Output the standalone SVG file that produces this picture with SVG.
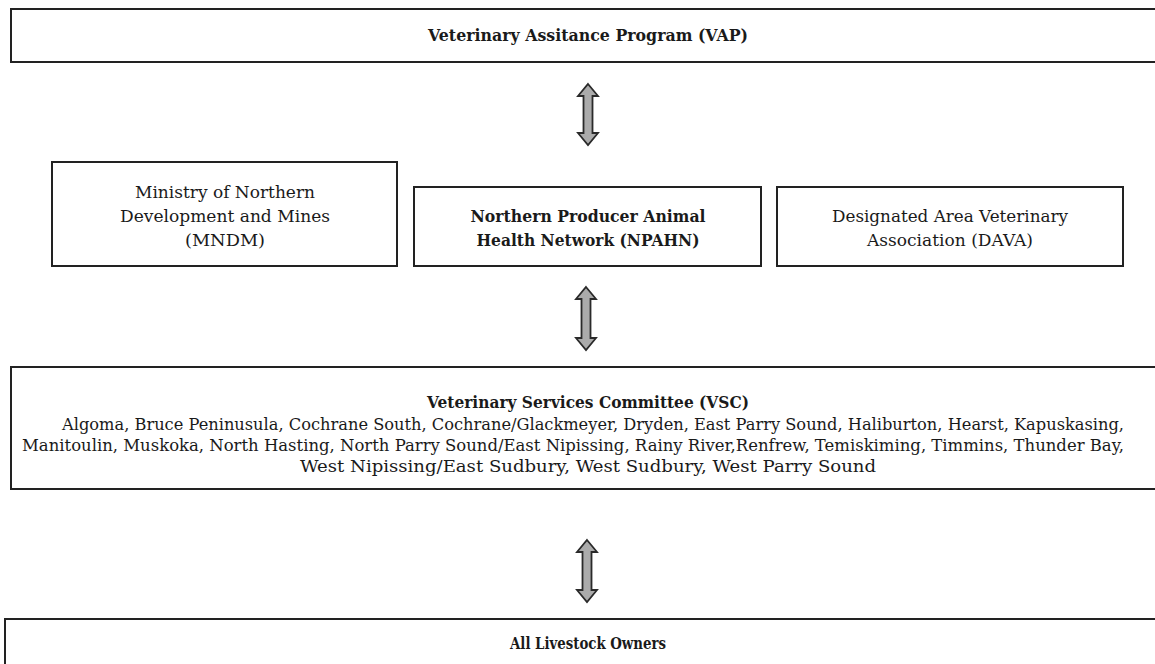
<svg xmlns="http://www.w3.org/2000/svg" width="1155" height="664" viewBox="0 0 1155 664">
<style>
.box{fill:#fff;stroke:#222;stroke-width:2}
.t{font-family:"DejaVu Serif","Liberation Serif",serif;font-size:16px;fill:#1a1a1a;text-anchor:middle}
.b{font-weight:bold;font-size:16.5px}
.arr{fill:#ababab;stroke:#2a2a2a;stroke-width:1.8;stroke-linejoin:miter}
</style>
<rect width="1155" height="664" fill="#fff"/>
<g id="vap">
<rect class="box" x="11" y="9" width="1160" height="53"/>
<text class="t b" x="588" y="41" textLength="320" lengthAdjust="spacingAndGlyphs">Veterinary Assitance Program (VAP)</text>
</g>
<g id="mndm">
<rect class="box" x="52" y="162" width="345" height="104"/>
<text class="t" x="225" y="198" textLength="180" lengthAdjust="spacingAndGlyphs">Ministry of Northern</text>
<text class="t" x="225" y="222" textLength="210" lengthAdjust="spacingAndGlyphs">Development and Mines</text>
<text class="t" x="225" y="246" textLength="80" lengthAdjust="spacingAndGlyphs">(MNDM)</text>
</g>
<g id="npahn">
<rect class="box" x="414" y="187" width="347" height="79"/>
<text class="t b" x="588" y="222" textLength="235" lengthAdjust="spacingAndGlyphs">Northern Producer Animal</text>
<text class="t b" x="588" y="246" textLength="223" lengthAdjust="spacingAndGlyphs">Health Network (NPAHN)</text>
</g>
<g id="dava">
<rect class="box" x="777" y="187" width="346" height="79"/>
<text class="t" x="950" y="222" textLength="236" lengthAdjust="spacingAndGlyphs">Designated Area Veterinary</text>
<text class="t" x="950" y="246" textLength="166" lengthAdjust="spacingAndGlyphs">Association (DAVA)</text>
</g>
<g id="vsc">
<rect class="box" x="11" y="367" width="1160" height="122"/>
<text class="t b" x="588" y="408" textLength="322" lengthAdjust="spacingAndGlyphs">Veterinary Services Committee (VSC)</text>
<text class="t" x="593" y="430" textLength="1062" lengthAdjust="spacingAndGlyphs">Algoma, Bruce Peninusula, Cochrane South, Cochrane/Glackmeyer, Dryden, East Parry Sound, Haliburton, Hearst, Kapuskasing,</text>
<text class="t" x="573" y="451" textLength="1102" lengthAdjust="spacingAndGlyphs">Manitoulin, Muskoka, North Hasting, North Parry Sound/East Nipissing, Rainy River,Renfrew, Temiskiming, Timmins, Thunder Bay,</text>
<text class="t" x="588" y="472" textLength="576" lengthAdjust="spacingAndGlyphs">West Nipissing/East Sudbury, West Sudbury, West Parry Sound</text>
</g>
<g id="owners">
<rect class="box" x="5" y="619" width="1165" height="60"/>
<text class="t b" x="588" y="649" textLength="156" lengthAdjust="spacingAndGlyphs">All Livestock Owners</text>
</g>
<g id="connectors">
<path class="arr" d="M588,84 L598,96 L592.5,96 L592.5,133 L598,133 L588,145 L578,133 L583.5,133 L583.5,96 L578,96 Z"/>
<path class="arr" d="M586,287 L596,299 L590.5,299 L590.5,338 L596,338 L586,350 L576,338 L581.5,338 L581.5,299 L576,299 Z"/>
<path class="arr" d="M587,540 L597,552 L591.5,552 L591.5,590 L597,590 L587,602 L577,590 L582.5,590 L582.5,552 L577,552 Z"/>
</g>
</svg>
